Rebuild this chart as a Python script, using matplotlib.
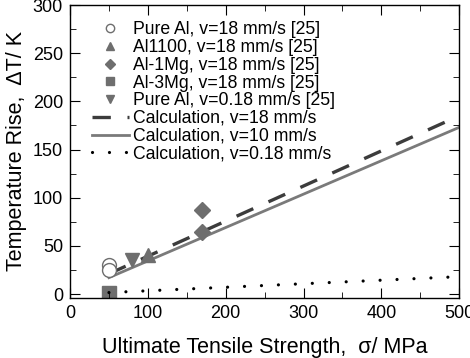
import matplotlib
matplotlib.use("Agg")
import matplotlib.pyplot as plt
from matplotlib.ticker import MultipleLocator

plt.rcParams['font.family'] = ['Liberation Sans', 'DejaVu Sans']

# experimental data [25]
pure_al_x = [50, 50]
pure_al_y = [30, 25]
al1100_x = [100]
al1100_y = [40]
al1mg_x = [170, 170]
al1mg_y = [87, 64]
al3mg_x = [50]
al3mg_y = [1]
pure_al_slow_x = [80]
pure_al_slow_y = [35]

# calculations
calc18_x = [50, 500]
calc18_y = [21, 185]
calc10_x = [50, 500]
calc10_y = [17, 173]
calc018_x = [50, 500]
calc018_y = [1.5, 18]

gray = '#6e6e6e'

fig = plt.figure(figsize=(4.7, 3.58), dpi=100)
ax = fig.add_axes([0.149, 0.168, 0.828, 0.818])

ax.plot(calc18_x, calc18_y, color='#3c3c3c', lw=2.4, dashes=(5.5, 5.0),
        label='Calculation, v=18 mm/s', zorder=2)
ax.plot(calc10_x, calc10_y, color='#7a7a7a', lw=2.0,
        label='Calculation, v=10 mm/s', zorder=2)
ax.plot(calc018_x, calc018_y, color='black', lw=2.3, dashes=(0.01, 5.3),
        dash_capstyle='round', label='Calculation, v=0.18 mm/s', zorder=2)

ms = 10
ax.plot(pure_al_x, pure_al_y, 'o', mfc='white', mec=gray, mew=1.0, ms=ms,
        label='Pure Al, v=18 mm/s [25]', zorder=3)
ax.plot(al1100_x, al1100_y, '^', color=gray, ms=ms,
        label='Al1100, v=18 mm/s [25]', zorder=3)
ax.plot(al1mg_x, al1mg_y, 'D', color=gray, ms=8.5,
        label='Al-1Mg, v=18 mm/s [25]', zorder=3)
ax.plot(al3mg_x, al3mg_y, 's', color=gray, ms=ms,
        label='Al-3Mg, v=18 mm/s [25]', zorder=1)
ax.plot(pure_al_slow_x, pure_al_slow_y, 'v', color=gray, ms=ms,
        label='Pure Al, v=0.18 mm/s [25]', zorder=3)

ax.set_xlim(0, 500)
ax.set_ylim(-4, 300)
ax.xaxis.set_major_locator(MultipleLocator(100))
ax.xaxis.set_minor_locator(MultipleLocator(50))
ax.yaxis.set_major_locator(MultipleLocator(50))
ax.yaxis.set_minor_locator(MultipleLocator(25))
ax.tick_params(which='both', direction='in', top=True, right=True,
               labelsize=13, pad=5)
ax.tick_params(which='major', length=7)
ax.tick_params(which='minor', length=4)
for s in ax.spines.values():
    s.set_linewidth(1.0)

ax.set_xlabel('Ultimate Tensile Strength,  σ/ MPa', fontsize=15.5, labelpad=11)
ax.set_ylabel('Temperature Rise,  ΔT/ K', fontsize=15.5, labelpad=4)

handles, labels = ax.get_legend_handles_labels()
order = [3, 4, 5, 6, 7, 0, 1, 2]
ax.legend([handles[i] for i in order], [labels[i] for i in order],
          loc='upper left', bbox_to_anchor=(0.028, 0.98), frameon=False,
          fontsize=12.7, markerscale=0.6, handlelength=2.1, handletextpad=0.25,
          labelspacing=0.04, borderaxespad=0.2)

fig.savefig('out.png', dpi=100)
